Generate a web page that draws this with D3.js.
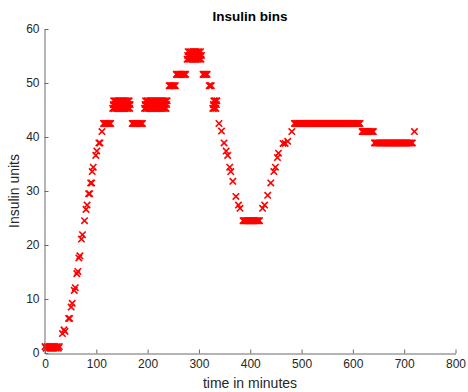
<!DOCTYPE html>
<html>
<head>
<meta charset="utf-8">
<script src="https://cdn.jsdelivr.net/npm/d3@7"></script>
<style>
  html, body { margin: 0; padding: 0; background: #fff; }
  svg { display: block; font-family: "Liberation Sans", Arial, Helvetica, sans-serif; }
</style>
</head>
<body>
<svg id="chart" width="468" height="392"></svg>
<script>
// ---- data ----
const titleText = "Insulin bins";
const xLabel = "time in minutes";
const yLabel = "Insulin units";
const xTicks = [0, 100, 200, 300, 400, 500, 600, 700, 800];
const yTicks = [0, 10, 20, 30, 40, 50, 60];

const times = [
  0, 2, 4, 6, 8, 10, 12, 14, 16, 18, 20, 22, 24, 26, 28,
  34, 37, 39, 46, 48, 51, 53, 57, 59, 62, 64, 66, 68, 71, 73, 77, 80, 82, 85, 87, 89, 91, 92, 94, 99, 101, 105, 107, 111,
  114, 116, 118, 120, 122, 124, 126, 128,
  132, 133, 134, 135, 136, 137, 138, 139, 140, 141, 142, 143,
  144, 145, 146, 147, 148, 149, 150, 151, 152, 153, 154, 155,
  156, 157, 158, 159, 160, 161, 162, 163, 164, 165, 166,
  170, 172, 174, 176, 178, 180, 182, 184, 186, 188, 190,
  194, 195, 196, 197, 198, 199, 200, 201, 202, 203, 204, 205,
  206, 207, 208, 209, 210, 211, 212, 213, 214, 215, 216, 217,
  218, 219, 220, 221, 222, 223, 224, 225, 226, 227, 228, 229,
  230, 231, 232, 233, 234, 235, 236, 237, 238,
  242, 244, 246, 248, 250, 252, 254,
  256, 258, 260, 262, 264, 266, 268, 270, 272, 274,
  277, 278, 279, 280, 281, 282, 283, 284, 285, 286, 287, 288,
  289, 290, 291, 292, 293, 294, 295, 296, 297, 298, 299, 300,
  301, 302, 303, 304, 305,
  308, 310, 312, 314, 316,
  320, 322, 324,
  327, 328, 329, 330, 331, 332, 333, 334, 335,
  339, 344, 349, 353, 356, 360, 362, 366, 372, 377, 380,
  386, 388, 390, 392, 394, 396, 398, 400, 402, 404, 406, 408, 410, 412, 414, 416, 418,
  424, 428, 434, 440, 446, 449, 453, 455, 464, 468, 473, 481,
  486, 488, 490, 492, 494, 496, 498, 500, 502, 504, 506, 508, 510, 512, 514, 516, 518, 520, 522, 524,
  526, 528, 530, 532, 534, 536, 538, 540, 542, 544, 546, 548, 550, 552, 554, 556, 558, 560, 562, 564,
  566, 568, 570, 572, 574, 576, 578, 580, 582, 584, 586, 588, 590, 592, 594, 596, 598, 600, 602, 604,
  606, 608, 610, 612, 614,
  618, 620, 622, 624, 626, 628, 630, 632, 634, 636, 638, 640,
  642, 644, 646, 648, 650, 652, 654, 656, 658, 660, 662, 664, 666, 668, 670, 672, 674, 676, 678, 680,
  682, 684, 686, 688, 690, 692, 694, 696, 698, 700, 702, 704, 706, 708, 710, 712, 714, 716,
  720
];
const values = [
  1.2, 0.9, 1.2, 0.9, 1.2, 0.9, 1.2, 0.9, 1.2, 0.9, 1.2, 0.9, 1.2, 0.9, 1.2,
  3.6, 4.3, 4.0, 6.4, 6.4, 8.5, 9.2, 11.6, 12.1, 14.7, 15.1, 17.6, 18.0, 21.1, 21.9, 24.5, 26.6, 27.4, 29.5, 29.5, 31.5, 31.5, 33.6, 34.4, 36.6, 37.4, 38.9, 38.9, 41.0,
  42.5, 42.5, 42.5, 42.5, 42.5, 42.5, 42.5, 42.5,
  45.3, 46.0, 46.7, 45.3, 46.0, 46.7, 45.3, 46.0, 46.7, 45.3, 46.0, 46.7,
  45.3, 46.0, 46.7, 45.3, 46.0, 46.7, 45.3, 46.0, 46.7, 45.3, 46.0, 46.7,
  45.3, 46.0, 46.7, 45.3, 46.0, 46.7, 45.3, 46.0, 46.7, 45.3, 46.0,
  42.5, 42.5, 42.5, 42.5, 42.5, 42.5, 42.5, 42.5, 42.5, 42.5, 42.5,
  45.3, 46.0, 46.7, 45.3, 46.0, 46.7, 45.3, 46.0, 46.7, 45.3, 46.0, 46.7,
  45.3, 46.0, 46.7, 45.3, 46.0, 46.7, 45.3, 46.0, 46.7, 45.3, 46.0, 46.7,
  45.3, 46.0, 46.7, 45.3, 46.0, 46.7, 45.3, 46.0, 46.7, 45.3, 46.0, 46.7,
  45.3, 46.0, 46.7, 45.3, 46.0, 46.7, 45.3, 46.0, 46.7,
  49.5, 49.5, 49.5, 49.5, 49.5, 49.5, 49.5,
  51.6, 51.6, 51.6, 51.6, 51.6, 51.6, 51.6, 51.6, 51.6, 51.6,
  54.4, 55.1, 55.8, 54.4, 55.1, 55.8, 54.4, 55.1, 55.8, 54.4, 55.1, 55.8,
  54.4, 55.1, 55.8, 54.4, 55.1, 55.8, 54.4, 55.1, 55.8, 54.4, 55.1, 55.8,
  54.4, 55.1, 55.8, 54.4, 55.1,
  51.6, 51.6, 51.6, 51.6, 51.6,
  49.5, 49.5, 49.5,
  45.3, 46.0, 46.7, 45.3, 46.0, 46.7, 45.3, 46.0, 46.7,
  42.5, 41.1, 38.9, 37.4, 36.6, 34.4, 33.6, 31.8, 29.0, 27.4, 26.8,
  24.5, 24.5, 24.5, 24.5, 24.5, 24.5, 24.5, 24.5, 24.5, 24.5, 24.5, 24.5, 24.5, 24.5, 24.5, 24.5, 24.5,
  26.8, 27.4, 29.2, 31.5, 33.6, 34.4, 36.2, 37.0, 38.8, 38.8, 39.2, 41.0,
  42.5, 42.5, 42.5, 42.5, 42.5, 42.5, 42.5, 42.5, 42.5, 42.5, 42.5, 42.5, 42.5, 42.5, 42.5, 42.5, 42.5, 42.5, 42.5, 42.5,
  42.5, 42.5, 42.5, 42.5, 42.5, 42.5, 42.5, 42.5, 42.5, 42.5, 42.5, 42.5, 42.5, 42.5, 42.5, 42.5, 42.5, 42.5, 42.5, 42.5,
  42.5, 42.5, 42.5, 42.5, 42.5, 42.5, 42.5, 42.5, 42.5, 42.5, 42.5, 42.5, 42.5, 42.5, 42.5, 42.5, 42.5, 42.5, 42.5, 42.5,
  42.5, 42.5, 42.5, 42.5, 42.5,
  41.0, 41.0, 41.0, 41.0, 41.0, 41.0, 41.0, 41.0, 41.0, 41.0, 41.0, 41.0,
  38.9, 38.9, 38.9, 38.9, 38.9, 38.9, 38.9, 38.9, 38.9, 38.9, 38.9, 38.9, 38.9, 38.9, 38.9, 38.9, 38.9, 38.9, 38.9, 38.9,
  38.9, 38.9, 38.9, 38.9, 38.9, 38.9, 38.9, 38.9, 38.9, 38.9, 38.9, 38.9, 38.9, 38.9, 38.9, 38.9, 38.9, 38.9,
  41.0
];

// ---- layout ----
const svg = d3.select("#chart");
const mLeft = 45, mRight = 455.5, mTop = 29, mBottom = 353;
const x = d3.scaleLinear().domain([0, 800]).range([mLeft, mRight]);
const y = d3.scaleLinear().domain([0, 60]).range([mBottom, mTop]);

const axisColor = "#6a6a6a";
const textColor = "#262626";

// markers
const n = Math.min(times.length, values.length);
const pts = d3.range(n).map(i => ({ t: times[i], v: values[i] }));
const s = 3.2;
svg.append("g")
  .selectAll("path")
  .data(pts)
  .join("path")
  .attr("d", d => {
    const cx = x(d.t), cy = y(d.v);
    return `M${cx - s},${cy - s}L${cx + s},${cy + s}M${cx - s},${cy + s}L${cx + s},${cy - s}`;
  })
  .attr("stroke", "#ff0000")
  .attr("stroke-width", 1.6)
  .attr("fill", "none");

// axes
const xAxis = svg.append("g")
  .attr("transform", `translate(0,${mBottom + 0.5})`)
  .call(d3.axisBottom(x).tickValues(xTicks).tickSizeInner(-4).tickSizeOuter(0).tickPadding(6).tickFormat(d3.format("d")));
const yAxis = svg.append("g")
  .attr("transform", `translate(${mLeft - 0.5},0)`)
  .call(d3.axisLeft(y).tickValues(yTicks).tickSizeInner(-4).tickSizeOuter(0).tickPadding(5).tickFormat(d3.format("d")));

[xAxis, yAxis].forEach(g => {
  g.select(".domain").attr("stroke", axisColor);
  g.selectAll(".tick line").attr("stroke", axisColor);
  g.selectAll(".tick text").attr("fill", textColor).style("font-size", "12px")
    .style("font-family", "'Liberation Sans', Arial, sans-serif");
});

// title and labels
svg.append("text")
  .attr("x", 250).attr("y", 21)
  .attr("text-anchor", "middle")
  .attr("font-weight", "bold")
  .attr("font-size", 13.5)
  .attr("fill", "#000")
  .text(titleText);

svg.append("text")
  .attr("x", 250).attr("y", 388)
  .attr("text-anchor", "middle")
  .attr("font-size", 14)
  .attr("fill", textColor)
  .text(xLabel);

svg.append("text")
  .attr("transform", `translate(19,${(mTop + mBottom) / 2}) rotate(-90)`)
  .attr("text-anchor", "middle")
  .attr("font-size", 14)
  .attr("fill", textColor)
  .text(yLabel);
</script>
</body>
</html>
